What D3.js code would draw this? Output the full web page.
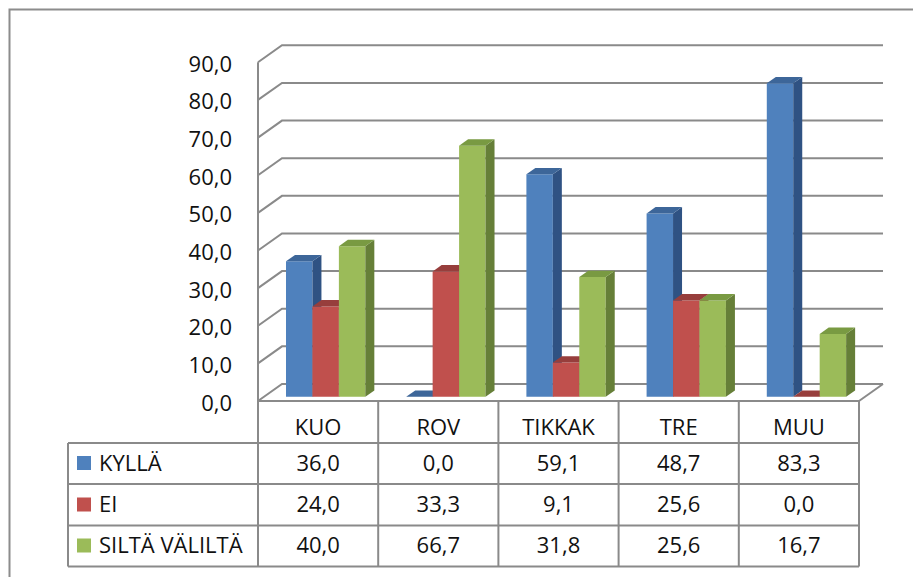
<!DOCTYPE html>
<html>
<head>
<meta charset="utf-8">
<script src="https://cdn.jsdelivr.net/npm/d3@7"></script>
<style>
  html, body { margin: 0; padding: 0; background: #fff; }
  svg { display: block; }
  text { font-family: "Open Sans", "Noto Sans", sans-serif; fill: #111; }
</style>
</head>
<body>
<svg id="chart" width="913" height="577"></svg>
<script>
// Survey answers per location (percent)
const categories = ["KUO", "ROV", "TIKKAK", "TRE", "MUU"];
const seriesNames = ["KYLLÄ", "EI", "SILTÄ VÄLILTÄ"];
const kylla = [36.0, 0.0, 59.1, 48.7, 83.3];
const ei = [24.0, 33.3, 9.1, 25.6, 0.0];
const siltaValilta = [40.0, 66.7, 31.8, 25.6, 16.7];
const yTicks = [0, 10, 20, 30, 40, 50, 60, 70, 80, 90];

const seriesValues = [kylla, ei, siltaValilta];
const palette = [
  { front: "#4F81BD", top: "#3D6699", side: "#2F5283" },
  { front: "#C0504D", top: "#973E3C", side: "#8C3A37" },
  { front: "#9BBB59", top: "#799A42", side: "#667F38" }
];

const fmt = v => v.toFixed(1).replace(".", ",");
const FS = 22;

const svg = d3.select("#chart");

// Oblique 3D projection: depth d in [0,1] shifts right and up
const DX = 24, DY = 17;
const x = d3.scaleBand(categories, [258, 859]);
const y = d3.scaleLinear([0, 90], [401, 62.3]);
const P = (px, v, d) => [px + d * DX, y(v) - d * DY];
const pts = arr => arr.map(p => p.join(",")).join(" ");

const gridColor = "#8a8a8a";

// outer chart frame
svg.append("rect")
  .attr("x", 9.5).attr("y", 9.5).attr("width", 1000).attr("height", 1000)
  .attr("fill", "none").attr("stroke", "#8c8c8c").attr("stroke-width", 2);

// back wall gridlines + side wall diagonals
const grid = svg.append("g").attr("stroke", gridColor).attr("stroke-width", 2).attr("fill", "none");
yTicks.forEach(v => {
  const a = P(258, v, 0), b = P(258, v, 1), c = P(859, v, 1);
  grid.append("polyline").attr("points", pts([a, b, c]));
});
// floor right edge
grid.append("line")
  .attr("x1", P(859, 0, 0)[0]).attr("y1", P(859, 0, 0)[1])
  .attr("x2", P(859, 0, 1)[0]).attr("y2", P(859, 0, 1)[1]);

// y axis labels
svg.append("g").selectAll("text").data(yTicks).join("text")
  .attr("x", 232).attr("y", d => y(d) + 9.5)
  .attr("text-anchor", "end")
  .attr("font-size", FS)
  .text(fmt);

// bars
const inner = d3.scaleBand(seriesNames, [0, x.bandwidth() * 0.66]);
const d0 = 0.25, d1 = 0.625;
const bars = svg.append("g");
categories.forEach((cat, ci) => {
  seriesNames.forEach((s, si) => {
    const v = seriesValues[si][ci];
    const xl = x(cat) + x.bandwidth() * 0.183 + inner(s);
    const xr = xl + inner.bandwidth();
    const col = palette[si];
    const g = bars.append("g");
    // front face
    g.append("polygon")
      .attr("points", pts([P(xl, 0, d0), P(xr, 0, d0), P(xr, v, d0), P(xl, v, d0)]))
      .attr("fill", col.front);
    // right side face
    g.append("polygon")
      .attr("points", pts([P(xr, 0, d0), P(xr, v, d0), P(xr, v, d1), P(xr, 0, d1)]))
      .attr("fill", col.side);
    // top face
    g.append("polygon")
      .attr("points", pts([P(xl, v, d0), P(xr, v, d0), P(xr, v, d1), P(xl, v, d1)]))
      .attr("fill", col.top);
  });
});

// data table
const rowLines = [443, 484, 525.5, 566.5];
const tbl = svg.append("g").attr("stroke", gridColor).attr("stroke-width", 2);
// floor front edge / table top
tbl.append("line").attr("x1", 258).attr("x2", 859).attr("y1", 401).attr("y2", 401);
rowLines.forEach(ry => tbl.append("line").attr("x1", 68).attr("x2", 859).attr("y1", ry).attr("y2", ry));
tbl.append("line").attr("x1", 68).attr("x2", 68).attr("y1", 443).attr("y2", 566.5);
tbl.append("line").attr("x1", 258).attr("x2", 258).attr("y1", y(90)).attr("y2", 566.5);
categories.forEach(cat => {
  const xe = x(cat) + x.bandwidth();
  tbl.append("line").attr("x1", xe).attr("x2", xe).attr("y1", 401).attr("y2", 566.5);
});

// header: category names
svg.append("g").selectAll("text").data(categories).join("text")
  .attr("x", d => x(d) + x.bandwidth() / 2).attr("y", 435)
  .attr("text-anchor", "middle").attr("font-size", FS)
  .text(d => d);

// rows: legend key + values
const baselines = [470.5, 512, 553];
seriesNames.forEach((s, si) => {
  const by = baselines[si];
  svg.append("rect")
    .attr("x", 77).attr("y", by - 14.5).attr("width", 14).attr("height", 14)
    .attr("fill", palette[si].front);
  svg.append("text").attr("x", 99).attr("y", by).attr("font-size", FS).text(s);
  svg.append("g").selectAll("text").data(categories).join("text")
    .attr("x", d => x(d) + x.bandwidth() / 2).attr("y", by)
    .attr("text-anchor", "middle").attr("font-size", FS)
    .text((d, ci) => fmt(seriesValues[si][ci]));
});
</script>
</body>
</html>
